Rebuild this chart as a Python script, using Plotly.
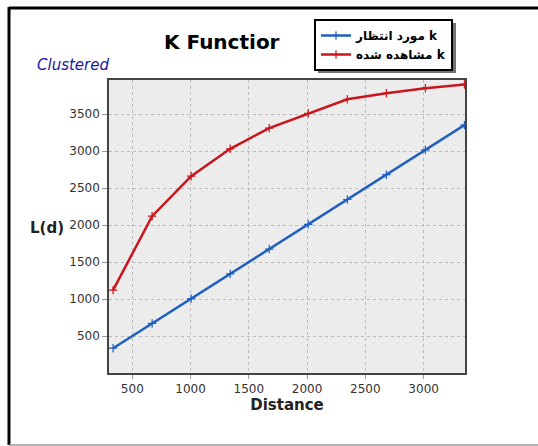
import plotly.graph_objects as go

distance = [335, 670, 1005, 1340, 1675, 2010, 2345, 2680, 3015, 3350]
expected = [335, 670, 1005, 1340, 1675, 2010, 2345, 2680, 3015, 3350]
observed = [1120, 2120, 2660, 3030, 3310, 3510, 3700, 3780, 3850, 3900]
name_expected = "مورد انتظار k"
name_observed = "مشاهده شده k"
x_ticks = [500, 1000, 1500, 2000, 2500, 3000]
y_ticks = [500, 1000, 1500, 2000, 2500, 3000, 3500]

W, H = 538, 446
L, R, T, B = 109, 465, 80, 373


def px(x):
    return (x - L) / (R - L)


def py(y):
    return (B - y) / (B - T)


fig = go.Figure()
fig.add_trace(go.Scatter(
    x=distance, y=expected, mode="lines+markers", name=name_expected,
    line=dict(color="#1f5fbf", width=2.5),
    marker=dict(symbol="cross-thin", size=6, line=dict(color="#1f5fbf", width=1.2)),
))
fig.add_trace(go.Scatter(
    x=distance, y=observed, mode="lines+markers", name=name_observed,
    line=dict(color="#c8161d", width=2.5),
    marker=dict(symbol="cross-thin", size=6, line=dict(color="#c8161d", width=1.2)),
))

font = "DejaVu Sans, Verdana, sans-serif"

fig.update_layout(
    width=W, height=H,
    margin=dict(l=L, r=W - R, t=T, b=H - B, pad=0),
    paper_bgcolor="white",
    plot_bgcolor="#ececec",
    font=dict(family=font, size=12, color="#333333"),
    showlegend=True,
    legend=dict(
        x=px(314), y=py(19), xanchor="left", yanchor="top",
        bgcolor="white", bordercolor="black", borderwidth=2,
        font=dict(family=font, size=12, color="black", weight="bold"),
        itemwidth=30, tracegroupgap=0,
    ),
    xaxis=dict(
        range=[300, 3355], tickvals=x_ticks, ticks="outside", ticklen=4,
        tickcolor="#999999", showgrid=True, gridcolor="#bbbbbb", griddash="dot",
        gridwidth=1, zeroline=False, showline=True, linecolor="#444444",
        linewidth=1.5, mirror=True,
        tickfont=dict(size=12, color="#333333"),
        title=dict(text="Distance", font=dict(size=15, color="#222222", weight="bold"), standoff=4),
    ),
    yaxis=dict(
        range=[0, 3960], tickvals=y_ticks, ticks="outside", ticklen=5,
        tickcolor="#999999", showgrid=True, gridcolor="#bbbbbb", griddash="dot",
        gridwidth=1, zeroline=False, showline=True, linecolor="#444444",
        linewidth=1.5, mirror=True,
        tickfont=dict(size=12, color="#333333"),
    ),
    shapes=[
        # blank right strip
        dict(type="rect", xref="paper", yref="paper", x0=px(520), x1=px(545), y0=py(-5), y1=py(450),
             fillcolor="white", line=dict(width=0), layer="above"),
        # outer frame
        dict(type="line", xref="paper", yref="paper", x0=px(9), x1=px(545), y0=py(8), y1=py(8),
             line=dict(color="black", width=3), layer="above"),
        dict(type="line", xref="paper", yref="paper", x0=px(9), x1=px(9), y0=py(7), y1=py(445),
             line=dict(color="black", width=3), layer="above"),
        dict(type="line", xref="paper", yref="paper", x0=px(9), x1=px(545), y0=py(445), y1=py(445),
             line=dict(color="#999999", width=1.5), layer="above"),
        # legend shadow
        dict(type="rect", xref="paper", yref="paper", x0=px(318), x1=px(456), y0=py(23), y1=py(73),
             fillcolor="rgba(0,0,0,0.55)", line=dict(width=0)),
    ],
    annotations=[
        dict(text="K Functior", xref="paper", yref="paper", x=px(222), y=py(42),
             xanchor="center", yanchor="middle", showarrow=False,
             font=dict(family=font, size=20, color="black", weight="bold")),
        dict(text="<i>Clustered</i>", xref="paper", yref="paper", x=px(35), y=py(65),
             xanchor="left", yanchor="middle", showarrow=False,
             font=dict(family="DejaVu Sans, sans-serif", size=15, color="#1a1aa0")),
        dict(text="L(d)", xref="paper", yref="paper", x=px(66), y=py(228),
             xanchor="right", yanchor="middle", showarrow=False,
             font=dict(family=font, size=15, color="#222222", weight="bold")),
    ],
)

fig.write_html(
    "out.html",
    config={"displayModeBar": False},
    post_script="document.body.style.margin='0';document.body.style.overflow='hidden';",
)
